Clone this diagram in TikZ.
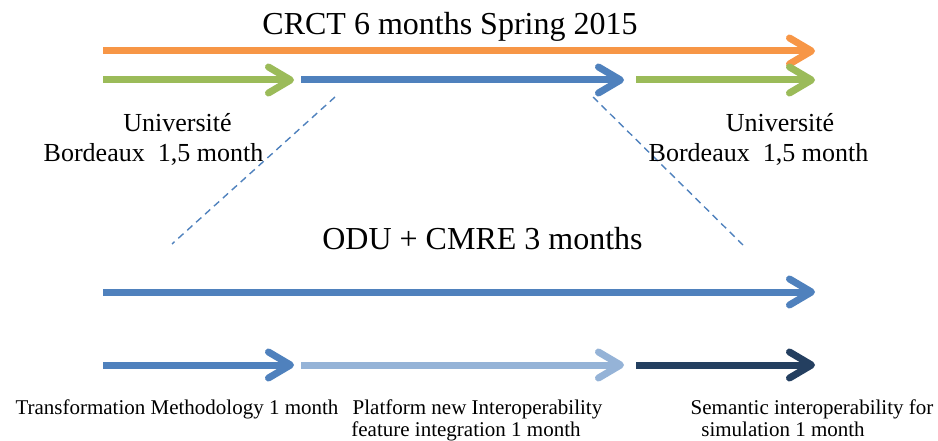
\documentclass[tikz,border=0pt]{standalone}
\usepackage{fontspec}
\setmainfont{Liberation Serif}
\usetikzlibrary{arrows.meta}
\definecolor{corange}{HTML}{F79646}
\definecolor{cgreen}{HTML}{9BBB59}
\definecolor{cblue}{HTML}{4F81BD}
\definecolor{clight}{HTML}{95B3D7}
\definecolor{cnavy}{HTML}{243F60}
\tikzset{
  bar/.style={line width=7pt,-{Straight Barb[length=22pt,width=26pt,round]}},
  link/.style={cblue,line width=1.4pt,dash pattern=on 7pt off 5pt},
  big/.style={anchor=base,inner sep=0pt,font=\fontsize{32}{36}\selectfont},
  mid/.style={anchor=base,inner sep=0pt,font=\fontsize{26}{30}\selectfont},
  small/.style={anchor=base,inner sep=0pt,font=\fontsize{21}{24}\selectfont},
}
\begin{document}
\begin{tikzpicture}[x=1pt,y=-1pt]
\useasboundingbox (0,0) rectangle (938,441);
% coordinates
\coordinate (o1) at (103,51);   \coordinate (o2) at (815,51);
\coordinate (g1) at (103,80);   \coordinate (g2) at (294,80);
\coordinate (b1) at (301,80);   \coordinate (b2) at (624,80);
\coordinate (h1) at (636,80);   \coordinate (h2) at (815,80);
\coordinate (l1) at (103,292);  \coordinate (l2) at (815,292);
\coordinate (m1) at (103,365);  \coordinate (m2) at (294,365);
\coordinate (n1) at (301,365);  \coordinate (n2) at (624,365);
\coordinate (p1) at (636,365);  \coordinate (p2) at (815,365);
\coordinate (d1) at (335,97);   \coordinate (d2) at (172,244);
\coordinate (e1) at (593,97);   \coordinate (e2) at (743,245);
% arrows
\draw[bar,corange] (o1) -- (o2);
\draw[bar,cgreen] (g1) -- (g2);
\draw[bar,cblue] (b1) -- (b2);
\draw[bar,cgreen] (h1) -- (h2);
\draw[bar,cblue] (l1) -- (l2);
\draw[bar,cblue] (m1) -- (m2);
\draw[bar,clight] (n1) -- (n2);
\draw[bar,cnavy] (p1) -- (p2);
% dashed links
\draw[link] (d1) -- (d2);
\draw[link] (e1) -- (e2);
% texts
\node[big] (title) at (450,35) {CRCT 6 months Spring 2015};
\node[big] (odu) at (482.5,250) {ODU + CMRE 3 months};
\node[mid] (u1) at (177.5,132) {Université};
\node[mid] (b1t) at (153.5,162) {Bordeaux\ \ 1,5 month};
\node[mid] (u2) at (780,132) {Université};
\node[mid] (b2t) at (758.5,162) {Bordeaux\ \ 1,5 month};
\node[small] (t1) at (177,414) {Transformation Methodology 1 month};
\node[small] (t2) at (477.5,414) {Platform new Interoperability};
\node[small] (t3) at (466,436) {feature integration 1 month};
\node[small] (t4) at (812,414) {Semantic interoperability for};
\node[small] (t5) at (783,436) {simulation 1 month};
\end{tikzpicture}
\end{document}
